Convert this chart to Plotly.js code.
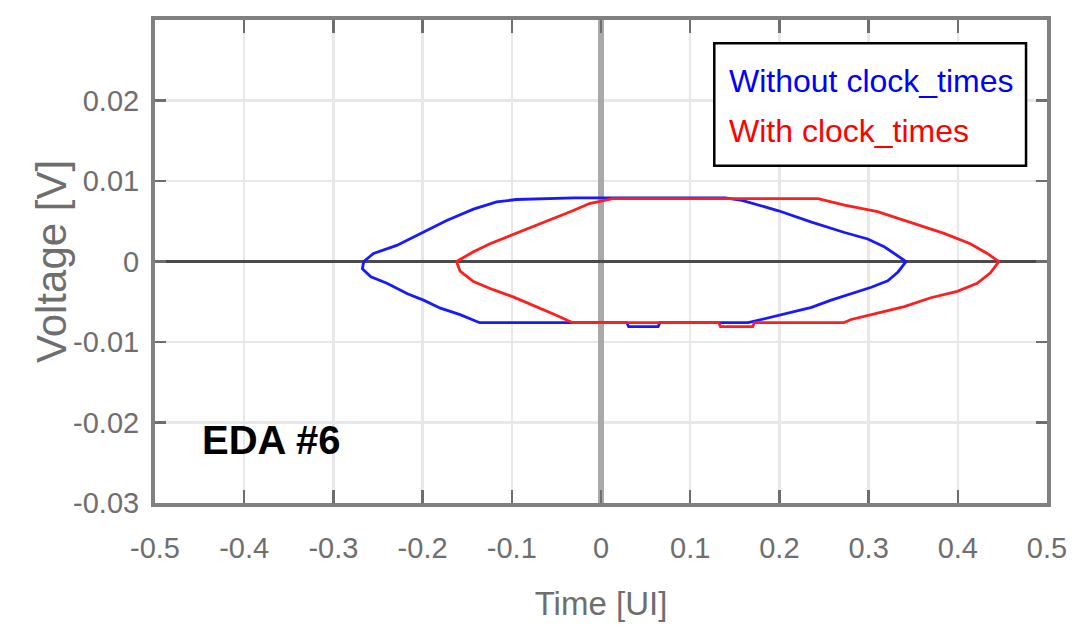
<!DOCTYPE html>
<html>
<head>
<meta charset="utf-8">
<script src="https://cdn.plot.ly/plotly-3.0.1.min.js"></script>
<style>html,body{margin:0;padding:0;background:#fff;}#chart{width:1072px;height:629px;}</style>
</head>
<body>
<div id="chart"></div>
<script>
// Without clock_times (blue eye contour)
const withoutTime = [-0.266, -0.255, -0.229, -0.201, -0.173, -0.143, -0.117, -0.095, -0.030, 0.139, 0.158, 0.199, 0.236, 0.273, 0.299, 0.318, 0.342, 0.333, 0.3215, 0.303, 0.2805, 0.258, 0.236, 0.2137, 0.1765, 0.165, 0.066, 0.064, 0.031, 0.029, -0.136, -0.158, -0.180, -0.199, -0.217, -0.240, -0.258, -0.2675, -0.266];
const withoutVolt = [0, 0.0010, 0.0020, 0.0036, 0.0051, 0.0065, 0.0074, 0.0077, 0.0079, 0.0079, 0.0076, 0.0063, 0.0049, 0.0036, 0.0028, 0.0018, 0, -0.0013, -0.0024, -0.0032, -0.0040, -0.0048, -0.0057, -0.0063, -0.0073, -0.0076, -0.0076, -0.0081, -0.0081, -0.0076, -0.0076, -0.0066, -0.0058, -0.0048, -0.0040, -0.0027, -0.0019, -0.0009, 0];

// With clock_times (red eye contour)
const withTime = [-0.162, -0.143, -0.1245, -0.106, -0.0874, -0.0688, -0.050, -0.0317, -0.013, 0.013, 0.2433, 0.273, 0.310, 0.347, 0.3846, 0.414, 0.433, 0.446, 0.4366, 0.4217, 0.3994, 0.3697, 0.340, 0.310, 0.2805, 0.272, 0.172, 0.170, 0.134, 0.132, -0.0317, -0.054, -0.0763, -0.0985, -0.121, -0.143, -0.158, -0.162];
const withVolt = [0, 0.0012, 0.0022, 0.0030, 0.0039, 0.0047, 0.0055, 0.0063, 0.0072, 0.0078, 0.0078, 0.0070, 0.0062, 0.0049, 0.0035, 0.0022, 0.0010, 0, -0.0014, -0.0027, -0.0037, -0.0045, -0.0056, -0.0064, -0.0072, -0.0076, -0.0076, -0.0081, -0.0081, -0.0076, -0.0076, -0.0065, -0.0054, -0.0044, -0.0035, -0.0025, -0.0012, 0];

const seriesNames = ["Without clock_times", "With clock_times"];
const xTickVals = [-0.5, -0.4, -0.3, -0.2, -0.1, 0, 0.1, 0.2, 0.3, 0.4, 0.5];
const xTickText = ["-0.5", "-0.4", "-0.3", "-0.2", "-0.1", "0", "0.1", "0.2", "0.3", "0.4", "0.5"];
const yTickVals = [-0.03, -0.02, -0.01, 0, 0.01, 0.02];
const yTickText = ["-0.03", "-0.02", "-0.01", "0", "0.01", "0.02"];
const panelLabel = "EDA #6";
const xTitle = "Time [UI]";
const yTitle = "Voltage [V]";

const sans = '"Liberation Sans", Arial, sans-serif';
const blue = 'rgb(25,25,255)';
const red = 'rgb(255,30,30)';

const traces = [
  {x: withoutTime, y: withoutVolt, mode: 'lines', name: seriesNames[0], line: {color: blue, width: 2.8}, showlegend: false},
  {x: withTime, y: withVolt, mode: 'lines', name: seriesNames[1], line: {color: red, width: 2.8}, showlegend: false}
];

const axisCommon = {
  ticks: 'inside', tickwidth: 2.5, tickcolor: '#6e6e6e',
  showline: true, linecolor: '#808080', linewidth: 4, mirror: 'ticks',
  showgrid: true, gridcolor: '#e8e8e8', gridwidth: 2.5,
  tickmode: 'array', fixedrange: true
};

const layout = {
  width: 1072, height: 629,
  margin: {l: 155, r: 25, t: 20, b: 126},
  paper_bgcolor: '#ffffff', plot_bgcolor: '#ffffff',
  showlegend: false,
  xaxis: Object.assign({}, axisCommon, {
    range: [-0.5, 0.5], tickvals: xTickVals, ticktext: xTickText, ticklen: 13,
    zeroline: true, zerolinecolor: '#a9a9a9', zerolinewidth: 6,
    tickfont: {family: sans, size: 29, color: '#6e6e6e'},
    ticklabelstandoff: 16,
    title: {text: xTitle, font: {family: sans, size: 33, color: '#6e6e6e'}, standoff: 30}
  }),
  yaxis: Object.assign({}, axisCommon, {
    range: [-0.03, 0.03], tickvals: yTickVals, ticktext: yTickText, ticklen: 11,
    zeroline: true, zerolinecolor: '#4a4a4a', zerolinewidth: 3,
    tickfont: {family: sans, size: 29, color: '#6e6e6e'},
    ticklabelstandoff: 6
  }),
  shapes: [
    {type: 'rect', xref: 'paper', yref: 'paper', x0: 0.627, x1: 0.9765, y0: 0.698, y1: 0.952,
     line: {color: '#000000', width: 2.5}, fillcolor: '#ffffff', layer: 'above'}
  ],
  annotations: [
    {xref: 'paper', yref: 'paper', x: -0.116, y: 0.5, xanchor: 'center', yanchor: 'middle', showarrow: false,
     textangle: -90, text: yTitle, font: {family: sans, size: 42, color: '#6e6e6e'}},
    {xref: 'paper', yref: 'paper', x: 0.641, y: 0.874, xanchor: 'left', yanchor: 'middle', showarrow: false,
     text: seriesNames[0], font: {family: sans, size: 32, color: 'rgb(0,0,255)'}},
    {xref: 'paper', yref: 'paper', x: 0.641, y: 0.770, xanchor: 'left', yanchor: 'middle', showarrow: false,
     text: seriesNames[1], font: {family: sans, size: 32, color: 'rgb(255,0,0)'}},
    {xref: 'paper', yref: 'paper', x: 0.050, y: 0.130, xanchor: 'left', yanchor: 'middle', showarrow: false,
     text: '<b>' + panelLabel + '</b>', font: {family: sans, size: 40, color: '#000000'}}
  ]
};

Plotly.newPlot('chart', traces, layout, {displayModeBar: false, staticPlot: true});
</script>
</body>
</html>
